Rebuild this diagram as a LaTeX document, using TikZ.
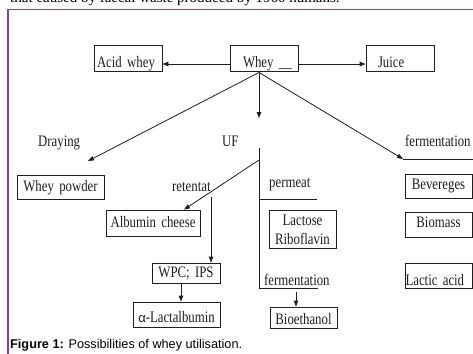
\documentclass[tikz,border=0pt]{standalone}
\usepackage{fontspec}
\setmainfont{Liberation Serif}
\newfontfamily\capfont{Liberation Sans}
\newfontfamily\diagfont[FakeStretch=0.8]{Liberation Serif}
\usetikzlibrary{arrows.meta}
\definecolor{framecol}{RGB}{112,72,160}
\definecolor{ink}{RGB}{30,30,30}
\begin{document}
\begin{tikzpicture}[x=1pt,y=-1pt,
  txt/.style={font=\diagfont\fontsize{16}{19}\selectfont, text=ink, inner sep=0pt},
  lbl/.style={txt, anchor=base west},
  bx/.style={txt, draw=ink, line width=0.8pt, align=center},
  lbx/.style={txt, draw=ink, line width=0.8pt, align=left},
  ln/.style={draw=ink, line width=0.8pt},
  arr/.style={ln, -{Triangle[length=6pt,width=4.5pt]}}]
\useasboundingbox (0,0) rectangle (473,353);
% cut-off text line above the frame
\node[anchor=base west, inner sep=0pt, font=\fontsize{15}{18}\selectfont] (toptext) at (10,3) {that caused by faecal waste produced by 1960 humans.};
% frame
\draw[framecol, line width=1.3pt] (475,9.5) -- (8,9.5) -- (8,356);
% top row
\node[lbx, text width=68pt, text height=22.5pt, text depth=3.5pt] (aw) at (128,58) {\hspace*{3pt}Acid whey};
\node[lbx, text width=68pt, text height=22.5pt, text depth=3.5pt] (whey) at (264,58) {\hspace*{13pt}Whey \_\_};
\node[lbx, text width=68pt, text height=22.5pt, text depth=3.5pt] (juice) at (400,58) {\hspace*{12pt}Juice};
\draw[arr] ([yshift=-6pt]whey.west) -- ([yshift=-6pt]aw.east);
\draw[arr] ([yshift=-6pt]whey.east) -- ([yshift=-6pt]juice.east -| juice.west);
% hub and three branches
\coordinate (hub) at (259,72.5);
\coordinate (dtip) at (88,161);
\coordinate (uftip) at (259,118);
\coordinate (ftip) at (403,159);
\coordinate (fend) at (475,159);
\draw[arr] (hub) -- (dtip);
\draw[arr] (hub) -- (uftip);
\draw[arr] (hub) -- (ftip);
\draw[ln] (ftip) -- (fend);
% labels
\node[lbl] (draying) at (38,146) {Draying};
\node[lbl] (uf) at (222,146) {UF};
\node[lbl] (ferm1) at (405,146) {fermentation};
\node[lbl] (retentat) at (172,191) {retentat};
\node[lbl] (permeat) at (269,187) {permeat};
\node[lbl] (ferm2) at (264,285) {fermentation};
% boxes
\node[bx, text width=87pt, text height=16pt, text depth=8pt] (wp) at (60.5,187) {Whey powder};
\node[bx, text width=94pt, text height=17pt, text depth=9pt] (ac) at (153,223) {Albumin cheese};
\node[bx, text width=68pt, text height=14pt, text depth=6pt] (wpc) at (186,273) {WPC; IPS};
\node[bx, text width=87pt, text height=20.5pt, text depth=4.5pt] (lac) at (176.5,314.5) {{\capfont\fontsize{13}{15}\selectfont α}-Lactalbumin};
\node[bx, text width=67pt, text height=15pt, text depth=23pt] (lr) at (302.5,229) {Lactose\\Riboflavin};
\node[bx, text width=67pt, text height=17pt, text depth=4pt] (bio) at (303.5,317.5) {Bioethanol};
\node[bx, text width=67pt, text height=15pt, text depth=9pt] (bev) at (438.5,186) {Bevereges};
\node[bx, text width=67pt, text height=15pt, text depth=10pt] (bm) at (438.5,224.5) {Biomass};
\node[lbx, text width=67pt, text height=22pt, text depth=3pt] (la) at (438.5,275.5) {\hspace*{0.5pt}Lactic acid};
% UF stem
\coordinate (ufa) at (259,148);
\coordinate (rt) at (259,160);
\coordinate (pa) at (259,199);
\coordinate (pb) at (317,199);
\coordinate (ufb) at (259,288);
\coordinate (ufc) at (318,288);
\draw[ln] (ufa) -- (ufb) -- (ufc);
\draw[ln] (pa) -- (pb);
\draw[arr] (rt) -- ([xshift=31pt]ac.north);
\coordinate (rv) at (211,197);
\draw[arr] (rv) -- (rv |- wpc.north);
\draw[arr] ([xshift=-5pt]wpc.south) -- ([xshift=-5pt]wpc.south |- lac.north);
\coordinate (fa) at (296,292);
\draw[arr] (fa) -- (fa |- bio.north);
% caption
\node[anchor=base west, inner sep=0pt, font=\capfont\fontsize{12.7}{15}\selectfont] (caption) at (10,348.5) {\textbf{Figure 1:} Possibilities of whey utilisation.};
\end{tikzpicture}
\end{document}
